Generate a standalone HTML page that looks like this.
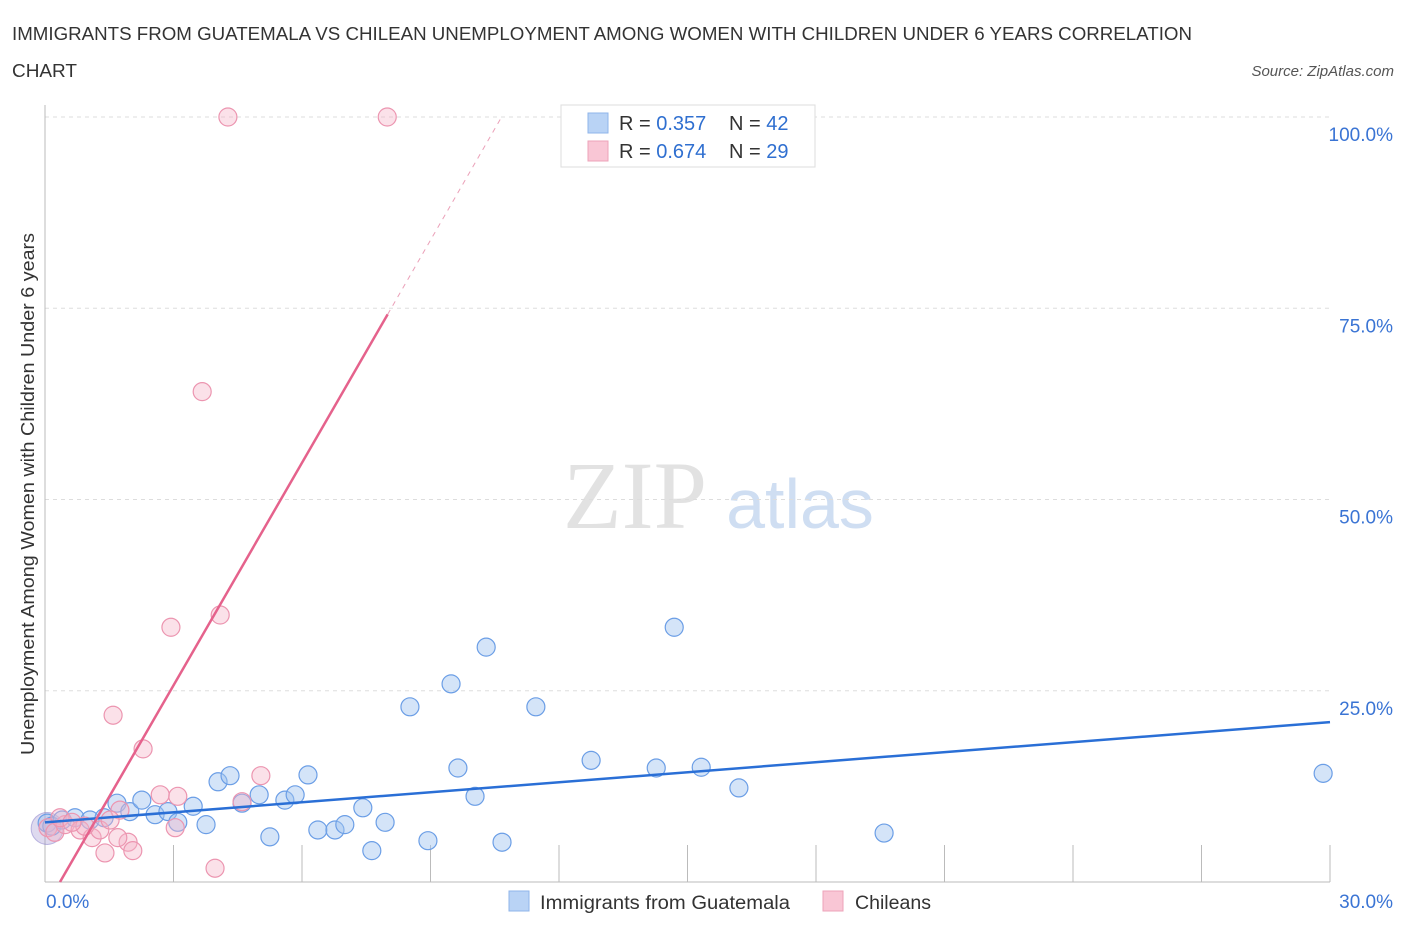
<!DOCTYPE html>
<html><head><meta charset="utf-8"><style>
body{margin:0;background:#fff;font-family:"Liberation Sans",sans-serif;}
svg{display:block}
</style></head><body>
<svg id="chart" width="1406" height="930">
<text x="12" y="40" font-size="18" fill="#333" textLength="1180" lengthAdjust="spacingAndGlyphs">IMMIGRANTS FROM GUATEMALA VS CHILEAN UNEMPLOYMENT AMONG WOMEN WITH CHILDREN UNDER 6 YEARS CORRELATION</text>
<text x="12" y="77" font-size="18" fill="#333" textLength="65" lengthAdjust="spacingAndGlyphs">CHART</text>
<text x="1394" y="76" font-size="15" font-style="italic" fill="#555" text-anchor="end">Source: ZipAtlas.com</text>
<text x="635" y="528" font-size="96" font-family="Liberation Serif,serif" fill="#e2e2e2" text-anchor="middle">ZIP</text>
<text x="800" y="528" font-size="70" fill="#cfdef2" text-anchor="middle">atlas</text>
<text transform="translate(34,494) rotate(-90)" font-size="18" fill="#333" text-anchor="middle" textLength="522" lengthAdjust="spacingAndGlyphs">Unemployment Among Women with Children Under 6 years</text>
<g id="grid"></g><g id="marks"></g>
<g>
<rect x="561" y="105" width="254" height="62" fill="#fff" stroke="#ddd"/>
<rect x="588" y="113" width="20" height="20" fill="#b9d3f5" stroke="#8fb4ea"/>
<rect x="588" y="141" width="20" height="20" fill="#f9c6d5" stroke="#eda3b9"/>
<text x="619" y="130" font-size="20" fill="#333">R = <tspan fill="#2f6fd0">0.357</tspan></text>
<text x="729" y="130" font-size="20" fill="#333">N = <tspan fill="#2f6fd0">42</tspan></text>
<text x="619" y="158" font-size="20" fill="#333">R = <tspan fill="#2f6fd0">0.674</tspan></text>
<text x="729" y="158" font-size="20" fill="#333">N = <tspan fill="#2f6fd0">29</tspan></text>
</g>
<g>
<rect x="509" y="891" width="20" height="20" fill="#b9d3f5" stroke="#8fb4ea"/>
<text x="540" y="909" font-size="19" fill="#333" textLength="250" lengthAdjust="spacingAndGlyphs">Immigrants from Guatemala</text>
<rect x="823" y="891" width="20" height="20" fill="#f9c6d5" stroke="#eda3b9"/>
<text x="855" y="909" font-size="19" fill="#333" textLength="76" lengthAdjust="spacingAndGlyphs">Chileans</text>
</g>
</svg>
<script>
const yTicks=[25,50,75,100];
const yTickLabels=["25.0%","50.0%","75.0%","100.0%"];
const blueX=[0.05,0.16,0.4,0.7,1.05,1.38,1.68,1.98,2.26,2.57,2.87,3.1,3.46,3.76,4.04,4.32,4.6,5.0,5.25,5.6,5.84,6.14,6.37,6.77,7.0,7.42,7.63,7.94,8.52,8.94,9.48,9.64,10.04,10.3,10.67,11.46,12.75,14.27,14.69,15.32,16.2,19.59,29.84];
const blueY=[7.7,7.3,8.1,8.4,8.1,8.4,10.3,9.2,10.7,8.8,9.2,7.8,9.9,7.5,13.1,13.9,10.3,11.4,5.9,10.7,11.4,14.0,6.8,6.8,7.5,9.7,4.1,7.8,22.9,5.4,25.9,14.9,11.2,30.7,5.2,22.9,15.9,14.9,33.3,15.0,12.3,6.4,14.2];
const pinkX=[0.07,0.23,0.47,0.82,1.1,1.28,1.59,1.75,1.4,1.94,2.05,2.29,2.69,2.94,3.04,3.1,3.67,3.97,4.09,4.27,4.6,5.04,7.99,0.35,0.93,1.52,1.7,0.63];
const pinkY=[7.1,6.5,7.5,6.8,5.8,6.8,21.8,9.4,3.8,5.2,4.1,17.4,11.4,33.3,7.1,11.2,64.1,1.8,34.9,100,10.5,13.9,100,8.4,7.3,8.1,5.8,7.8];
const blueLine=[[0,7.8],[30,20.9]];
const pinkLine=[[0.35,0],[8.0,74.2]];
const pinkDash=[[8.0,74.2],[10.66,100]];
const X=v=>45+v/30*1285, Y=v=>882-v*7.65;
const NS="http://www.w3.org/2000/svg";
const grid=document.getElementById('grid'), marks=document.getElementById('marks');
function mk(tag,attrs,parent){const e=document.createElementNS(NS,tag);for(const k in attrs)e.setAttribute(k,attrs[k]);parent.appendChild(e);return e;}
yTicks.forEach((t,i)=>{
 const l=mk('line',{x1:45,x2:1330,y1:Y(t),y2:Y(t),stroke:'#ddd','stroke-dasharray':'4,4'},grid);
 
 
 const tx=mk('text',{x:1393,y:Y(t)+24,'font-size':19,fill:'#3a74d4','text-anchor':'end'},grid);
 tx.textContent=yTickLabels[i];
 
 
});
const ax=mk('line',{x1:45,x2:45,y1:105,y2:882,stroke:'#bbb'},grid);


const bx=mk('line',{x1:45,x2:1330,y1:882,y2:882,stroke:'#bbb'},grid);


for(let v=3;v<=30;v+=3){const t=mk('line',{x1:X(v),x2:X(v),y1:845,y2:882,stroke:'#bbb'},grid);
 
 }
[["0.0%",46,'start'],["30.0%",1393,'end']].forEach(a=>{const t=mk('text',{x:a[1],y:908,'font-size':19,fill:'#3a74d4','text-anchor':a[2]},grid);t.textContent=a[0];
 
 });
const big1=mk('circle',{cx:X(0.05),cy:Y(7),r:16,fill:'rgba(160,150,210,0.35)',stroke:'rgba(130,120,200,0.5)'},marks);


blueX.forEach((x,i)=>{const c=mk('circle',{cx:X(x),cy:Y(blueY[i]),r:9,fill:'rgba(160,196,240,0.45)',stroke:'#6b9ee6','stroke-width':1.2},marks);
 
 });
pinkX.forEach((x,i)=>{const c=mk('circle',{cx:X(x),cy:Y(pinkY[i]),r:9,fill:'rgba(246,180,200,0.4)',stroke:'#ec95b0','stroke-width':1.2},marks);
 
 });
const bl=mk('line',{x1:X(blueLine[0][0]),y1:Y(blueLine[0][1]),x2:X(blueLine[1][0]),y2:Y(blueLine[1][1]),stroke:'#2a6fd6','stroke-width':2.5},marks);


const pl=mk('line',{x1:X(pinkLine[0][0]),y1:Y(pinkLine[0][1]),x2:X(pinkLine[1][0]),y2:Y(pinkLine[1][1]),stroke:'#e5628c','stroke-width':2.5},marks);


const pd=mk('line',{x1:X(pinkDash[0][0]),y1:Y(pinkDash[0][1]),x2:X(pinkDash[1][0]),y2:Y(pinkDash[1][1]),stroke:'#eba0b8','stroke-width':1,'stroke-dasharray':'5,5'},marks);


</script>
</body></html>
